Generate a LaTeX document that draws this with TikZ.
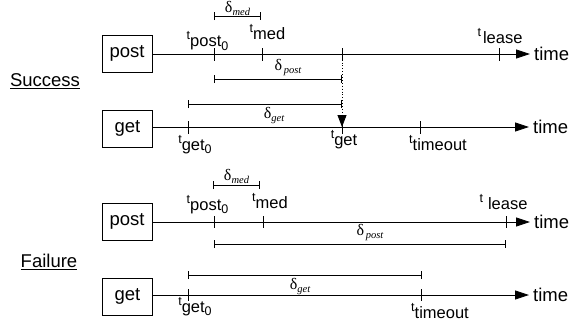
\documentclass[tikz,border=0pt]{standalone}
\usepackage{fontspec}
\setmainfont{Liberation Sans}
\newfontfamily\deltafont{Liberation Serif}
\usetikzlibrary{
    arrows.meta, % for the arrow tips and the bar ends
    positioning  % for placing labels relative to points
}

% t with a two level subscript, e.g. t_{post_0}
\newcommand{\tname}[2]{{\fontsize{12.5}{12}\selectfont t}\raisebox{-7pt}{\fontsize{16.5}{15.5}\selectfont #1\raisebox{-3.5pt}{\fontsize{12.5}{12}\selectfont #2}}}
% delta with an italic subscript
\newcommand{\dname}[1]{{\deltafont\fontsize{16}{14}\selectfont δ\raisebox{-3pt}{\fontsize{10.5}{9.5}\selectfont\itshape #1}}}

\begin{document}
\begin{tikzpicture}[
    x=1pt,y=-1pt,>={Triangle[length=14pt,width=9pt]},
    every node/.style   = {inner sep=0pt},
    proc/.style         = {draw,line width=0.8pt,minimum width=50pt,minimum height=37pt,
                           font=\fontsize{18.5}{18}\selectfont},
    timeline/.style     = {->,line width=0.8pt},
    tick/.style         = {line width=0.7pt},
    span/.style         = {line width=0.8pt,{Bar[width=8pt,line width=1.3pt]}-{Bar[width=8pt,line width=1.3pt]}},
    timeword/.style     = {right=4pt,font=\fontsize{18.5}{18}\selectfont},
    case/.style         = {font=\fontsize{18.5}{18}\selectfont}
]

\useasboundingbox (0,0) rectangle (569,333);

% Success (top)

    \node [case] (success) at (45,81) {\underline{Success}};

    \node [proc] (post1) at (127,53.5) {post};
    \node [proc] (get1)  at (127.5,128.5) {get};

    \coordinate (post1end) at (530,54);
    \coordinate (get1end)  at (529,127);
    \draw [timeline] (post1.east |- post1end) -- (post1end);
    \draw [timeline] (get1.east |- get1end) -- (get1end);
    \node [timeword] (time1) at (post1end) {time};
    \node [timeword] (time2) at (get1end)  {time};

    \foreach \x/\n in {214/p0,262/pm,342/pe,499/pl}
        \draw [tick] (\x,48) coordinate (s\n) -- (\x,61);
    \foreach \x/\n in {188/g0,342/ge,420/gt}
        \draw [tick] (\x,121) -- (\x,134) coordinate (s\n);

    \node (tpost1)  [anchor=south] at (207.5,50.5) {\tname{post}{0}};
    \node (tmed1)   [anchor=south] at (267.5,43)   {\tname{med}{}};
    \node (tlease1) [anchor=south] at (500,47)     {\tname{\hspace{2pt}lease}{}};
    \node (tget1)   [anchor=north] at (195,135)    {\tname{get}{0}};
    \node (tgot1)   [anchor=north] at (344,130)    {\tname{get}{}};
    \node (tout1)   [anchor=north] at (438,135)    {\tname{timeout}{}};

    \draw [span] (214,16)  -- node [above=0pt] (dmed1)  {\dname{med}}  (261,16);
    \draw [span] (214,79)  -- node [above=3pt,xshift=10pt] (dpost1) {\dname{\,post}} (342,79);
    \draw [span] (188,104) -- node [below=3pt,xshift=9pt] (dget1)  {\dname{get}}  (342,104);

    % hand over from post to get
    \draw [dotted,line width=0.9pt,-{Triangle[length=12pt,width=9pt]}] (spe) -- (342,127);

% Failure (bottom)

    \node [case] (failure) at (49,262) {\underline{Failure}};

    \node [proc] (post2) at (127,221.5) {post};
    \node [proc] (get2)  at (127.5,296.5) {get};

    \coordinate (post2end) at (530,222);
    \coordinate (get2end)  at (529,295);
    \draw [timeline] (post2.east |- post2end) -- (post2end);
    \draw [timeline] (get2.east |- get2end) -- (get2end);
    \node [timeword] (time3) at (post2end) {time};
    \node [timeword] (time4) at (get2end)  {time};

    \foreach \x in {214,263,506}
        \draw [tick] (\x,216) -- (\x,228);
    \foreach \x in {188,421}
        \draw [tick] (\x,289) -- (\x,301);

    \node (tpost2)  [anchor=south] at (207.5,214) {\tname{post}{0}};
    \node (tmed2)   [anchor=south] at (270,212)   {\tname{med}{}};
    \node (tlease2) [anchor=south] at (503.5,213) {\tname{\hspace{5pt}lease}{}};
    \node (tget2)   [anchor=north] at (195,297)   {\tname{get}{0}};
    \node (tout2)   [anchor=north] at (440,303)   {\tname{timeout}{}};

    \draw [span] (213,185) -- node [above=1pt] (dmed2)  {\dname{med}}  (260,185);
    \draw [span] (214,244) -- node [above=3pt,xshift=10pt] (dpost2) {\dname{\,post}} (506,244);
    \draw [span] (188,275) -- node [below=3pt,xshift=-5pt] (dget2)  {\dname{get}}  (422,275);

\end{tikzpicture}
\end{document}
